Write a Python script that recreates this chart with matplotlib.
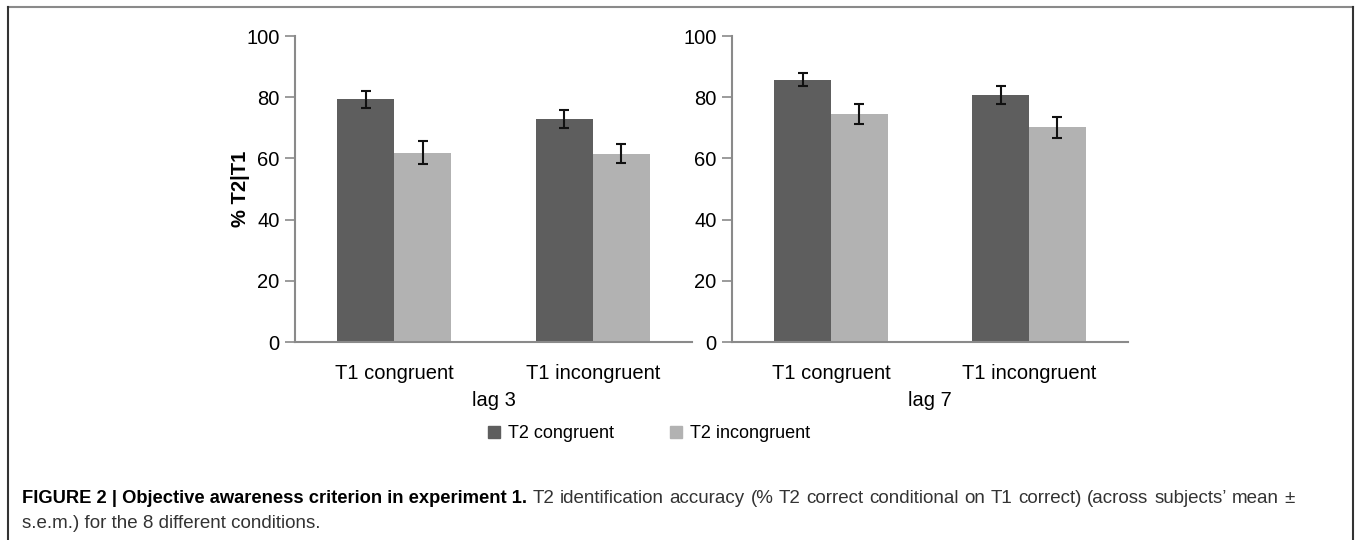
import matplotlib.pyplot as plt
from matplotlib.lines import Line2D
from matplotlib.patches import Patch

plt.rcParams['font.family'] = ['Liberation Sans', 'DejaVu Sans']

# data
categories = ['T1 congruent', 'T1 incongruent']
series = ['T2 congruent', 'T2 incongruent']
lags = ['lag 3', 'lag 7']
lag3_mean = [[79.3, 72.9], [61.9, 61.6]]
lag3_sem = [[2.7, 2.9], [3.7, 3.0]]
lag7_mean = [[85.7, 80.7], [74.4, 70.1]]
lag7_sem = [[2.2, 2.95], [3.3, 3.3]]
colors = ['#5e5e5e', '#b2b2b2']
yticks = [0, 20, 40, 60, 80, 100]

caption_bold = 'FIGURE 2 | Objective awareness criterion in experiment 1.'
caption_rest = ('T2 identification accuracy (% T2 correct conditional on T1 correct) '
                '(across subjects\u2019 mean \u00b1')
caption_line2 = 's.e.m.) for the 8 different conditions.'

W, H = 1355, 540
fig = plt.figure(figsize=(W / 100, H / 100), dpi=100)

panels = [(295, 692, lag3_mean, lag3_sem), (732, 1128, lag7_mean, lag7_sem)]
bw = 0.287
axc = '#8a8a8a'
fs = 14.5

for i, (x0, x1, means, sems) in enumerate(panels):
    ax = fig.add_axes([x0 / W, 1 - 342 / H, (x1 - x0) / W, 306 / H])
    for s in range(2):
        xs = [c + (s - 0.5) * bw for c in range(len(categories))]
        ax.bar(xs, means[s], width=bw, color=colors[s], zorder=2)
        ax.errorbar(xs, means[s], yerr=sems[s], fmt='none', ecolor='#111111',
                    elinewidth=1.5, capsize=3.7, capthick=1.5, zorder=3)
    ax.set_xlim(-0.5, 1.5)
    ax.set_ylim(0, 100)
    ax.set_yticks(yticks)
    ax.set_xticks(range(len(categories)))
    ax.set_xticklabels(categories)
    for sp in ['top', 'right']:
        ax.spines[sp].set_visible(False)
    for sp in ['left', 'bottom']:
        ax.spines[sp].set_color(axc)
        ax.spines[sp].set_linewidth(1.5)
    ax.tick_params(axis='y', length=7, width=1.2, color=axc, labelsize=fs, pad=4)
    ax.tick_params(axis='x', length=0, labelsize=fs, pad=16)
    ax.text(0.5, -0.19, lags[i], transform=ax.transAxes, ha='center', va='center',
            fontsize=fs)
    if i == 0:
        ax.set_ylabel('% T2|T1', fontsize=fs, fontweight='bold', labelpad=-2.5)

handles = [Patch(color=c) for c in colors]
fig.legend(handles, series, loc='center', bbox_to_anchor=(649 / W, 1 - 434 / H),
           ncol=2, frameon=False, fontsize=13, handlelength=0.65, handleheight=0.65,
           handletextpad=0.45, columnspacing=3.1)

# caption, first line justified between x=22 and x=1295
cap_fs = 13.5
y1 = 1 - 503 / H
y2 = 1 - 528 / H
t1 = fig.text(22 / W, y1, caption_bold, fontsize=13.2, fontweight='bold',
              va='baseline', ha='left')
fig.canvas.draw()
r = fig.canvas.get_renderer()
start = t1.get_window_extent(r).x1
words = caption_rest.split(' ')
wts = [fig.text(0, y1, w, fontsize=cap_fs, color='#333333', va='baseline', ha='left')
       for w in words]
widths = [t.get_window_extent(r).width for t in wts]
gap = (1295 - start - sum(widths)) / len(words)
x = start + gap
for t, w in zip(wts, widths):
    t.set_x(x / W)
    x += w + gap
fig.text(22 / W, y2, caption_line2, fontsize=cap_fs, color='#333333',
         va='baseline', ha='left')

# frame around the figure
fig.add_artist(Line2D([8 / W, 1353 / W], [1 - 7 / H, 1 - 7 / H], color='#8a8a8a', lw=1.5))
fig.add_artist(Line2D([8 / W, 8 / W], [0, 1 - 7 / H], color='#333333', lw=1.5))
fig.add_artist(Line2D([1353 / W, 1353 / W], [0, 1 - 7 / H], color='#333333', lw=1.5))

fig.savefig('out.png', dpi=100)
